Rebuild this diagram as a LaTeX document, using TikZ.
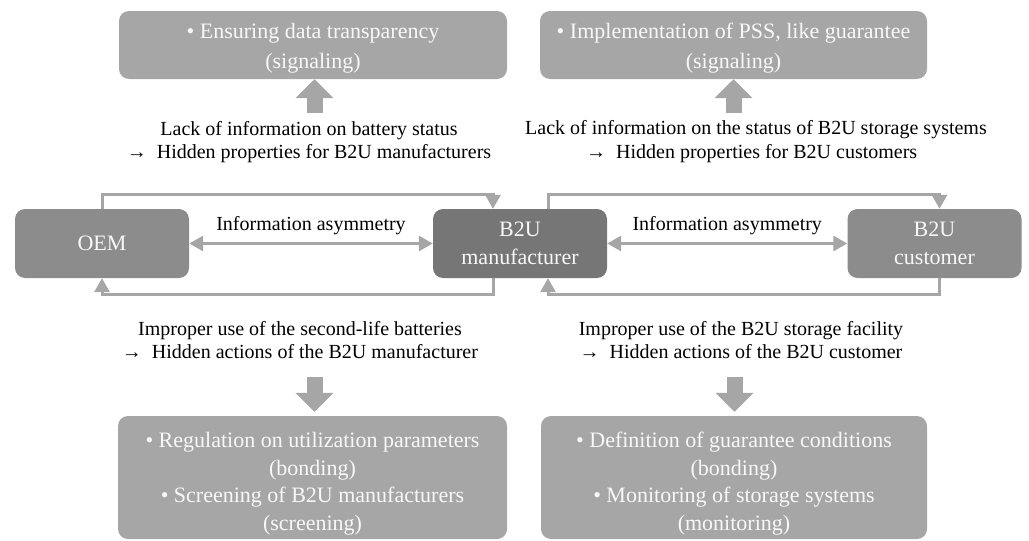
\documentclass[tikz,border=0pt]{standalone}
\usepackage{fontspec}
\setmainfont{Liberation Serif}
\usetikzlibrary{arrows.meta}
\definecolor{midgray}{RGB}{140,140,140}
\definecolor{darkgray2}{RGB}{118,118,118}
\definecolor{lightgray2}{RGB}{166,166,166}
\definecolor{linegray}{RGB}{166,166,166}
\definecolor{boxtext}{RGB}{248,248,248}
\newcommand{\harr}{→\hspace{10pt}}
\begin{document}
\begin{tikzpicture}[x=1pt,y=-1pt,
  actor/.style={rounded corners=10pt, fill=midgray, text=boxtext, minimum width=174pt, minimum height=69pt, align=center, font=\fontsize{22}{28}\selectfont, inner sep=0pt},
  measure/.style={rounded corners=10pt, fill=lightgray2, inner sep=0pt},
  mtext/.style={text=boxtext, align=center, inner sep=0pt},
  lbl/.style={font=\fontsize{20}{23.5}\selectfont, align=center, inner sep=0pt, text=black},
  conn/.style={draw=linegray, line width=3pt, -{Triangle[length=14pt,width=15pt]}},
  conntwo/.style={draw=linegray, line width=3pt, {Triangle[length=14pt,width=15pt]}-{Triangle[length=14pt,width=15pt]}},
  block/.style={draw=linegray, line width=16pt, -{Triangle[length=19pt,width=37pt]}}
]
\useasboundingbox (0,0) rectangle (1029,541);

% actors
\node[actor] (oem) at (102,243.5) {OEM};
\node[actor, fill=darkgray2] (mfr) at (520,243.5) {B2U\\manufacturer};
\node[actor] (cust) at (934.5,243.5) {B2U\\customer};

% measures
\node[measure, minimum width=388pt, minimum height=68pt] (tl) at (313,45) {};
\node[measure, minimum width=387pt, minimum height=68pt] (tr) at (733.5,45) {};
\node[measure, minimum width=389pt, minimum height=123pt] (bl) at (312.5,477.5) {};
\node[measure, minimum width=386pt, minimum height=123pt] (br) at (734,477.5) {};
\node[mtext, font=\fontsize{22}{30}\selectfont] (tlt) at ([yshift=-3pt]tl.center) {• Ensuring data transparency\\(signaling)};
\node[mtext, font=\fontsize{22}{30}\selectfont] (trt) at ([yshift=-3pt]tr.center) {• Implementation of PSS, like guarantee\\(signaling)};
\node[mtext, font=\fontsize{22}{27.5}\selectfont] (blt) at ([yshift=-6pt]bl.center) {• Regulation on utilization parameters\\(bonding)\\• Screening of B2U manufacturers\\(screening)};
\node[mtext, font=\fontsize{22}{27.5}\selectfont] (brt) at ([yshift=-6pt]br.center) {• Definition of guarantee conditions\\(bonding)\\• Monitoring of storage systems\\(monitoring)};

% labels
\node[lbl] (ltl) at (309,142) {Lack of information on battery status\\\harr Hidden properties for B2U manufacturers};
\node[lbl, anchor=west] (ltra) at (525,130) {Lack of information on the status of B2U storage systems};
\node[lbl, anchor=west] (ltrb) at (586,154) {\harr Hidden properties for B2U customers};
\node[lbl] (lbl) at (300,340) {Improper use of the second-life batteries\\\harr Hidden actions of the B2U manufacturer};
\node[lbl] (lbr) at (741,340) {Improper use of the B2U storage facility\\\harr Hidden actions of the B2U customer};

% information asymmetry
\draw[conntwo] (oem.east) -- (mfr.west) node[midway, above=7pt, lbl] (ia1) {Information asymmetry};
\draw[conntwo] (mfr.east) -- (cust.west) node[midway, above=7pt, lbl] (ia2) {Information asymmetry};

% loops
\draw[conn] (oem.north) -- ++(0,-14) -| ([xshift=-27pt]mfr.north);
\draw[conn] ([xshift=-27pt]mfr.south) -- ++(0,16) -| (oem.south);
\draw[conn] ([xshift=28pt]mfr.north) -- ++(0,-14) -| ([xshift=5pt]cust.north);
\draw[conn] ([xshift=5pt]cust.south) -- ++(0,16) -| ([xshift=28pt]mfr.south);

% block arrows
\coordinate (atl) at (314.5,113);
\coordinate (atr) at (733.5,113);
\coordinate (abl) at (314.5,377);
\coordinate (abr) at (734.5,377);
\draw[block] (atl) -- (atl |- tl.south);
\draw[block] (atr) -- (atr |- tr.south);
\draw[block, shorten >=4pt] (abl) -- (abl |- bl.north);
\draw[block, shorten >=4pt] (abr) -- (abr |- br.north);
\end{tikzpicture}
\end{document}
